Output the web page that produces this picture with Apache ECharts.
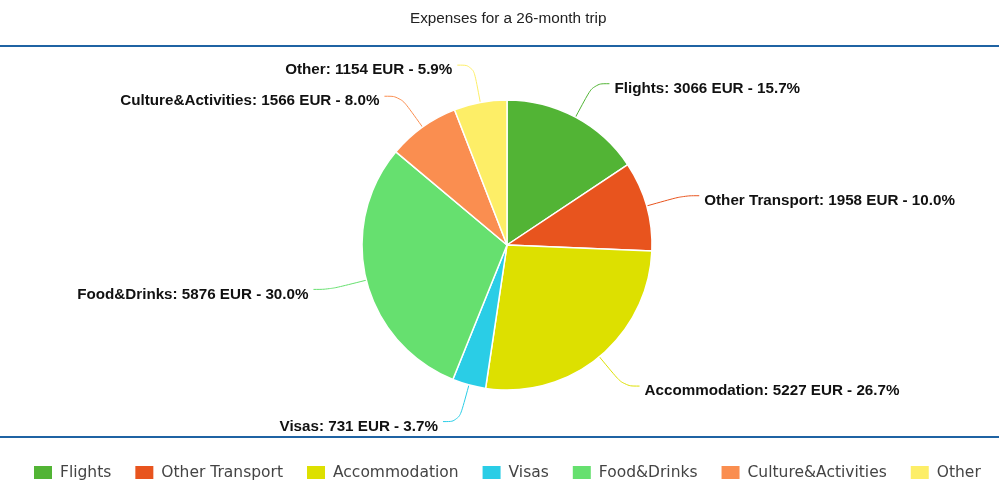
<!DOCTYPE html>
<html><head><meta charset="utf-8">
<script src="https://cdn.jsdelivr.net/npm/echarts@6/dist/echarts.min.js"></script>
<style>html,body{margin:0;padding:0;background:#fff}#c{width:999px;height:492px}
.bar{position:absolute;left:0;width:999px;height:2px;background:#1f63a3}</style>
</head><body>
<div id="c"></div>
<div class="bar" style="top:45px"></div>
<div class="bar" style="top:436px"></div>
<script>
const categories = ['Flights','Other Transport','Accommodation','Visas','Food&Drinks','Culture&Activities','Other'];
const values = [3066,1958,5227,731,5876,1566,1154];
const colors = ['#52b435','#e8541e','#dde000','#2acde6','#66e06f','#fa8e50','#fdee67'];
const total = values.reduce((a,b)=>a+b,0);
const chart = echarts.init(document.getElementById('c'));
chart.setOption({
  animation:false,
  title:{text:'Expenses for a 26-month trip',left:405,top:6,textStyle:{fontFamily:'Liberation Sans',fontSize:15.3,fontWeight:'normal',color:'#222'}},
  color:colors,
  legend:{bottom:6,left:27,itemWidth:20,itemHeight:15,itemGap:22,icon:'rect',
    textStyle:{fontFamily:'DejaVu Sans',fontSize:15.5,color:'#444',padding:[0,0,0,2]},data:categories},
  series:[{type:'pie',center:[507,245],radius:145,startAngle:90,clockwise:true,
    itemStyle:{borderColor:'#fff',borderWidth:1.5},
    label:{fontFamily:'Liberation Sans',fontWeight:'bold',fontSize:15.2,color:'#111',offset:[0,5],
      formatter:p=>p.name+': '+p.value+' EUR - '+(p.value/total*100).toFixed(1)+'%'},
    labelLine:{length:38,length2:16,smooth:0.4,lineStyle:{width:1}},
    data:categories.map((n,i)=>({name:n,value:values[i]}))}]
});
</script></body></html>
